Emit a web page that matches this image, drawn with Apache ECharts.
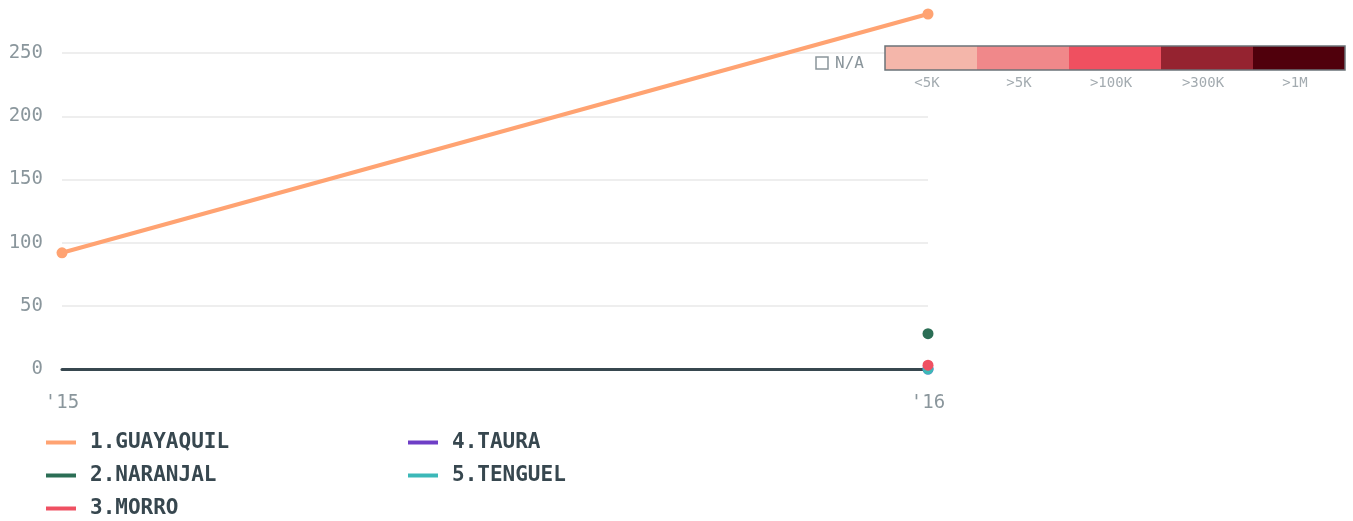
<!DOCTYPE html>
<html>
	<head>
		<meta charset="utf-8">
		<title></title>
		<script src="https://cdn.jsdelivr.net/npm/echarts@6/dist/echarts.min.js"></script>
		<style>
			body { margin: 0; background: #fff; }
		</style>
	</head>
	<body>
		<div id="main" style="width: 1353px;height:521px;"></div>
		<script type="text/javascript">
			// data
			var years = ["'15", "'16"];
			var names = ['1.GUAYAQUIL', '2.NARANJAL', '3.MORRO', '4.TAURA', '5.TENGUEL'];
			var colors = ['#ffa372', '#2b6e55', '#ef5062', '#6e3ec6', '#3cb8b8'];
			var guayaquil = [92, 281];
			var naranjal = [null, 28];
			var morro = [null, 3];
			var taura = [null, 0];
			var tenguel = [null, 0];
			var values = [guayaquil, naranjal, morro, taura, tenguel];

			// scale legend (top right)
			var pieceColors = ['#f4b6aa', '#f0888a', '#ef5060', '#952330', '#50000c'];
			var pieceLabels = ['<5K', '>5K', '>100K', '>300K', '>1M'];

			var mono = 'DejaVu Sans Mono';
			var myChart = echarts.init(document.getElementById('main'));

			var series = names.map(function (n, i) {
				return {
					name: n,
					type: 'line',
					data: values[i],
					symbol: 'circle',
					symbolSize: 11,
					z: i == 2 ? 5 : 2,
					itemStyle: { color: colors[i] },
					lineStyle: { color: colors[i], width: 4 }
				};
			});

			var graphics = [];
			var bx = 885, bw = 92, by = 46, bh = 24;
			pieceColors.forEach(function (c, i) {
				graphics.push({
					type: 'rect', z: 100,
					shape: { x: bx + i * bw, y: by, width: bw, height: bh },
					style: { fill: c }
				});
				graphics.push({
					type: 'text', z: 100,
					x: bx + i * bw + bw / 2 - 4,
					y: by + bh + 13,
					style: {
						text: pieceLabels[i], fill: '#a3abb0', font: '14px ' + mono,
						align: 'center', verticalAlign: 'middle'
					}
				});
			});
			graphics.push({
				type: 'rect', z: 101,
				shape: { x: bx, y: by, width: bw * 5, height: bh },
				style: { fill: 'none', stroke: '#6b7378', lineWidth: 1.5 }
			});
			graphics.push({
				type: 'rect', z: 100,
				shape: { x: 816, y: 57, width: 12, height: 12 },
				style: { fill: 'none', stroke: '#8a959b', lineWidth: 1.5 }
			});
			graphics.push({
				type: 'text', z: 100, x: 835, y: 64,
				style: { text: 'N/A', fill: '#8a959b', font: '16px ' + mono, verticalAlign: 'middle' }
			});

			var legendBase = {
				orient: 'vertical',
				icon: 'rect',
				itemWidth: 30,
				itemHeight: 4,
				itemGap: 12,
				textStyle: { fontFamily: mono, fontWeight: 'bold', fontSize: 21, lineHeight: 21, color: '#37474f', padding: [0, 0, 0, 9] },
				padding: 0
			};

			var option = {
				animation: false,
				grid: { left: 62, right: 425, top: -10, bottom: 152, outerBoundsMode: 'none' },
				legend: [
					Object.assign({ left: 46, top: 432, data: names.slice(0, 3) }, legendBase),
					Object.assign({ left: 408, top: 432, data: names.slice(3) }, legendBase)
				],
				xAxis: {
					type: 'category',
					data: years,
					boundaryGap: false,
					axisLine: { lineStyle: { color: '#37474f', width: 3 } },
					axisTick: { show: false },
					axisLabel: { margin: 25, fontFamily: mono, fontSize: 19, color: '#8a969c' }
				},
				yAxis: {
					type: 'value',
					min: 0,
					max: 300,
					interval: 50,
					axisLine: { show: false },
					axisTick: { show: false },
					splitLine: { lineStyle: { color: '#e8e8e8', width: 1.5 } },
					axisLabel: { margin: 19, fontFamily: mono, fontSize: 19, color: '#8a969c' }
				},
				graphic: graphics,
				series: series
			};

			myChart.setOption(option);
		</script>
	</body>
</html>
